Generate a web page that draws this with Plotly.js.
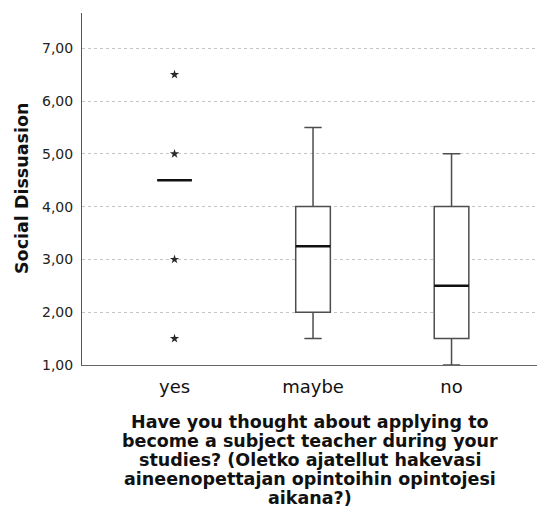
<!DOCTYPE html>
<html>
<head>
<meta charset="utf-8">
<script src="https://cdn.plot.ly/plotly-3.0.1.min.js"></script>
<style>
  html, body { margin: 0; padding: 0; background: #fff; }
  #chart { width: 537px; height: 508px; }
</style>
</head>
<body>
<div id="chart"></div>
<script>
// Group labels on the x axis
const categories = ['yes', 'maybe', 'no'];

// Five-number summaries per group
const q1Values     = [4.5, 2.0, 1.5];
const medianValues = [4.5, 3.25, 2.5];
const q3Values     = [4.5, 4.0, 4.0];
const lowerWhisker = [4.5, 1.5, 1.0];
const upperWhisker = [4.5, 5.5, 5.0];

// Extreme values (stars) in the "yes" group
const extremeGroup  = [0, 0, 0, 0];
const extremeValues = [6.5, 5.0, 3.0, 1.5];

// Axis ticks
const yTickValues = [1, 2, 3, 4, 5, 6, 7];

// Axis titles
const yTitle = 'Social Dissuasion';
const xTitleLines = [
  'Have you thought about applying to',
  'become a subject teacher during your',
  'studies? (Oletko ajatellut hakevasi',
  'aineenopettajan opintoihin opintojesi',
  'aikana?)'
];

const positions = categories.map((_, i) => i);
const boxWidth = 0.25;
const FONT = '"DejaVu Sans", "Liberation Sans", sans-serif';

// Boxes with whiskers from the precomputed statistics
const boxTrace = {
  type: 'box',
  x: positions,
  q1: q1Values,
  median: medianValues,
  q3: q3Values,
  lowerfence: lowerWhisker,
  upperfence: upperWhisker,
  width: boxWidth,
  whiskerwidth: 0.5,
  boxpoints: false,
  fillcolor: '#ffffff',
  line: { color: '#4d4d4d', width: 1.5 },
  hoverinfo: 'skip'
};

// Heavier median bars drawn over the boxes
const medX = [], medY = [];
positions.forEach((p, i) => {
  medX.push(p - boxWidth / 2, p + boxWidth / 2, null);
  medY.push(medianValues[i], medianValues[i], null);
});
const medianTrace = {
  type: 'scatter',
  mode: 'lines',
  x: medX,
  y: medY,
  line: { color: '#111111', width: 2.5 },
  hoverinfo: 'skip'
};

const extremeTrace = {
  type: 'scatter',
  mode: 'markers',
  x: extremeGroup,
  y: extremeValues,
  marker: { symbol: 'star', size: 7, color: '#2a2a2a' },
  hoverinfo: 'skip'
};

// Multi-line x title, one annotation per line for tight spacing
const lineGap = 19;
const annotations = xTitleLines.map((t, i) => ({
  text: '<b>' + t + '</b>',
  xref: 'paper', yref: 'paper',
  x: 0.5, y: 0,
  xanchor: 'center', yanchor: 'middle',
  yshift: -(57 + i * lineGap),
  showarrow: false,
  font: { family: FONT, size: 17.5, color: '#111111' }
}));
annotations.push({
  text: '<b>' + yTitle + '</b>',
  xref: 'paper', yref: 'paper',
  x: 0, y: 0.5,
  xanchor: 'center', yanchor: 'middle',
  xshift: -60,
  textangle: -90,
  showarrow: false,
  font: { family: FONT, size: 17.5, color: '#111111' }
});

const layout = {
  width: 537,
  height: 508,
  margin: { l: 82, r: 0, t: 13, b: 143 },
  paper_bgcolor: '#ffffff',
  plot_bgcolor: '#ffffff',
  showlegend: false,
  separators: ',.',
  font: { family: FONT, color: '#222222' },
  xaxis: {
    range: [-0.668, 2.617],
    tickvals: positions,
    ticktext: categories,
    showgrid: false,
    zeroline: false,
    showline: true,
    linecolor: '#666666',
    linewidth: 1,
    ticks: '',
    tickfont: { family: FONT, size: 18, color: '#111111' },
    ticklabelstandoff: 5
  },
  yaxis: {
    range: [1, 7.667],
    tickvals: yTickValues,
    tickformat: '.2f',
    showgrid: true,
    gridcolor: '#c4c4c4',
    gridwidth: 1,
    griddash: '3px,3px',
    zeroline: false,
    showline: true,
    linecolor: '#555555',
    linewidth: 1,
    ticks: '',
    tickfont: { family: FONT, size: 14, color: '#222222' },
    ticklabelstandoff: 5
  },
  annotations: annotations
};

Plotly.newPlot('chart', [boxTrace, medianTrace, extremeTrace], layout, { displayModeBar: false, staticPlot: true });
</script>
</body>
</html>
